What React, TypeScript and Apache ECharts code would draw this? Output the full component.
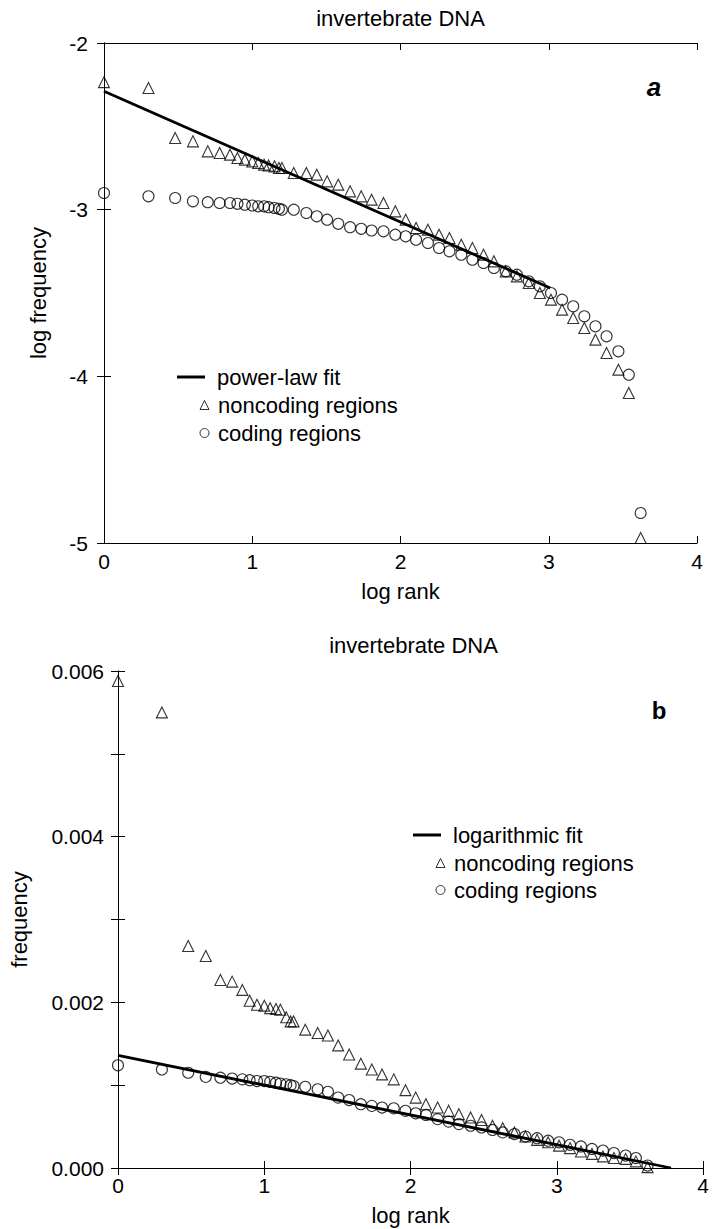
import React, { useEffect, useRef } from "react";
import * as echarts from "echarts";

// shared x positions (log rank) of the points
const logRank = [
  0, 0.3, 0.48, 0.6, 0.7, 0.78, 0.85, 0.9, 0.95, 1.0,
  1.04, 1.08, 1.11, 1.15, 1.18, 1.2,
  1.28, 1.365, 1.435, 1.505, 1.58, 1.66, 1.735, 1.805, 1.885, 1.965,
  2.035, 2.105, 2.185, 2.26, 2.33, 2.41, 2.485, 2.56, 2.63, 2.71,
  2.785, 2.865, 2.94, 3.015, 3.09, 3.165, 3.24, 3.315, 3.39, 3.47,
  3.54, 3.62,
];

// panel a: log frequency
const aNoncoding = [
  -2.235, -2.27, -2.57, -2.59, -2.65, -2.66, -2.67, -2.69, -2.7, -2.71,
  -2.72, -2.73, -2.735, -2.74, -2.75, -2.75,
  -2.78, -2.78, -2.79, -2.83, -2.85, -2.89, -2.92, -2.94, -2.96, -3.01,
  -3.06, -3.11, -3.12, -3.15, -3.17, -3.21, -3.23, -3.27, -3.31, -3.37,
  -3.4, -3.44, -3.5, -3.54, -3.6, -3.65, -3.71, -3.78, -3.86, -3.96,
  -4.1, -4.97,
];
const aCoding = [
  -2.9, -2.92, -2.93, -2.95, -2.955, -2.96, -2.96, -2.965, -2.97, -2.975,
  -2.98, -2.98, -2.985, -2.99, -2.995, -3.0,
  -3.0, -3.02, -3.04, -3.06, -3.085, -3.105, -3.115, -3.125, -3.13, -3.15,
  -3.16, -3.18, -3.2, -3.23, -3.25, -3.27, -3.3, -3.32, -3.35, -3.37,
  -3.39, -3.43, -3.46, -3.5, -3.54, -3.58, -3.64, -3.7, -3.76, -3.85,
  -3.99, -4.82,
];
const aFitX = [0, 3.01];
const aFitY = [-2.29, -3.47];

// panel b: frequency
const bNoncoding = [
  0.00588, 0.0055, 0.00268, 0.00256, 0.00227, 0.00225, 0.00215, 0.00202, 0.00197, 0.00196,
  0.00193, 0.00192, 0.00191, 0.00182, 0.00177, 0.00177,
  0.00167, 0.00163, 0.0016, 0.00148, 0.00137, 0.00126, 0.00119, 0.00113, 0.00107, 0.00094,
  0.00085, 0.00077, 0.00073, 0.00069, 0.00065, 0.00061, 0.00058, 0.00051, 0.00048, 0.00043,
  0.00038, 0.00034, 0.00031, 0.00027, 0.00024, 0.0002, 0.00017, 0.00014, 0.00012, 0.00011,
  0.00008, 0.00001,
];
const bCoding = [
  0.00124, 0.00119, 0.00115, 0.0011, 0.00109, 0.00108, 0.00107, 0.00106, 0.00105, 0.00105,
  0.00104, 0.00103, 0.00102, 0.00101, 0.001, 0.00099,
  0.00098, 0.00095, 0.00092, 0.00085, 0.00082, 0.00077, 0.00075, 0.00073, 0.00072, 0.00069,
  0.00066, 0.00064, 0.00059, 0.00056, 0.00053, 0.00051, 0.00049, 0.00046, 0.00043, 0.00041,
  0.00038, 0.00036, 0.00033, 0.00031, 0.00028, 0.00026, 0.00023, 0.00021, 0.00018, 0.00015,
  0.00012, 0.00003,
];
const bFitX = [0, 3.78];
const bFitY = [0.00136, 0];

const xTicks = [0, 1, 2, 3, 4];
const aYTicks = [-5, -4, -3, -2];
const bYTicks = [0, 0.001, 0.002, 0.003, 0.004, 0.005, 0.006];
const bYLabels = ["0.000", "", "0.002", "", "0.004", "", "0.006"];

const FONT = '"Liberation Sans", Arial, Helvetica, sans-serif';
const BLACK = "#000";
const HOLLOW = "rgba(0,0,0,0)";

export default function App() {
  const ref = useRef<HTMLDivElement>(null);

  useEffect(() => {
    document.body.style.margin = "0";
    const chart = echarts.init(ref.current as HTMLDivElement, null, { renderer: "svg" });

    const line = { show: true, lineStyle: { color: BLACK, width: 1 } };
    const tick = { show: true, inside: true, length: 7, lineStyle: { color: BLACK, width: 1 } };
    const label = { color: BLACK, fontSize: 21, fontFamily: FONT };
    const nameStyle = { color: BLACK, fontSize: 22, fontFamily: FONT };

    const xCommon = (grid: number) => ({
      type: "value" as const,
      gridIndex: grid,
      min: xTicks[0],
      max: xTicks[xTicks.length - 1],
      interval: 1,
      axisLine: line,
      axisTick: tick,
      splitLine: { show: false },
    });

    const pair = (xs: number[], ys: number[]) => xs.map((x, i) => [x, ys[i]]);

    const scatter = (name: string, sym: string, xi: number, yi: number, ys: number[]) => ({
      name,
      type: "scatter" as const,
      xAxisIndex: xi,
      yAxisIndex: yi,
      symbol: sym,
      symbolSize: 11,
      itemStyle: { color: HOLLOW, borderColor: BLACK, borderWidth: 1.1 },
      data: pair(logRank, ys),
      z: 3,
    });

    const fit = (name: string, xi: number, yi: number, xs: number[], ys: number[]) => ({
      name,
      type: "line" as const,
      xAxisIndex: xi,
      yAxisIndex: yi,
      showSymbol: false,
      symbol: "none",
      color: BLACK,
      lineStyle: { color: BLACK, width: 2.8 },
      data: pair(xs, ys),
      z: 2,
    });

    const legendText = (pad: number) => ({
      color: BLACK,
      fontSize: 22,
      fontFamily: FONT,
      padding: [0, 0, 0, pad],
    });
    const symItem = (name: string, icon: string) => ({
      name,
      icon,
      itemStyle: { color: HOLLOW, borderColor: BLACK, borderWidth: 1 },
    });

    const bYAxis = (position: "left" | "right") => ({
      type: "value",
      gridIndex: 1,
      min: bYTicks[0],
      max: bYTicks[bYTicks.length - 1],
      interval: bYTicks[1] - bYTicks[0],
      position,
      axisLine: line,
      axisTick: tick,
      splitLine: { show: false },
    });

    const option: any = {
      animation: false,
      backgroundColor: "#fff",
      grid: [
        { left: 104, top: 43, width: 593, height: 500 },
        { left: 116, top: 671, width: 595, height: 497 },
      ],
      xAxis: [
        {
          ...xCommon(0),
          position: "bottom",
          axisLabel: { ...label, margin: 8 },
          name: "log rank",
          nameLocation: "middle",
          nameGap: 37,
          nameTextStyle: nameStyle,
        },
        { ...xCommon(0), position: "top", axisLabel: { show: false } },
        {
          ...xCommon(1),
          position: "bottom",
          axisLabel: { ...label, margin: 7 },
          name: "log rank",
          nameLocation: "middle",
          nameGap: 36,
          nameTextStyle: nameStyle,
        },
        { ...xCommon(1), position: "top", axisLabel: { show: false } },
      ],
      yAxis: [
        {
          type: "value",
          gridIndex: 0,
          min: aYTicks[0],
          max: aYTicks[aYTicks.length - 1],
          interval: 1,
          position: "left",
          axisLine: line,
          axisTick: tick,
          splitLine: { show: false },
          axisLabel: { ...label, margin: 16 },
          name: "log frequency",
          nameLocation: "middle",
          nameGap: 55,
          nameTextStyle: nameStyle,
        },
        {
          type: "value",
          gridIndex: 0,
          min: aYTicks[0],
          max: aYTicks[aYTicks.length - 1],
          interval: 1,
          position: "right",
          axisLine: line,
          axisTick: tick,
          splitLine: { show: false },
          axisLabel: { show: false },
        },
        {
          ...bYAxis("left"),
          axisLabel: {
            ...label,
            margin: 14,
            formatter: (v: number) => {
              const i = Math.round(v / (bYTicks[1] - bYTicks[0]));
              return bYLabels[i] ?? "";
            },
          },
          name: "frequency",
          nameLocation: "middle",
          nameGap: 88,
          nameTextStyle: nameStyle,
        },
        { ...bYAxis("right"), axisLabel: { show: false } },
      ],
      legend: [
        {
          data: [{ name: "power-law fit", icon: "rect" }],
          left: 177,
          top: 366,
          padding: 0,
          itemWidth: 28,
          itemHeight: 3,
          itemStyle: { color: BLACK },
          textStyle: legendText(7),
          selectedMode: false,
        },
        {
          data: [symItem("noncoding regions", "triangle"), symItem("coding regions", "circle")],
          orient: "vertical",
          left: 199.5,
          top: 394,
          padding: 0,
          itemWidth: 9,
          itemHeight: 9,
          itemGap: 6,
          textStyle: legendText(4),
          selectedMode: false,
        },
        {
          data: [{ name: "logarithmic fit", icon: "rect" }],
          left: 413,
          top: 824,
          padding: 0,
          itemWidth: 28,
          itemHeight: 3,
          itemStyle: { color: BLACK },
          textStyle: legendText(7),
          selectedMode: false,
        },
        {
          data: [symItem("noncoding regions", "triangle"), symItem("coding regions", "circle")],
          orient: "vertical",
          left: 435.5,
          top: 852,
          padding: 0,
          itemWidth: 9,
          itemHeight: 9,
          itemGap: 5,
          textStyle: legendText(4),
          selectedMode: false,
        },
      ],
      graphic: [
        {
          type: "text",
          x: 400.5,
          y: 18,
          style: { text: "invertebrate DNA", font: `22px ${FONT}`, fill: BLACK, textAlign: "center", textVerticalAlign: "middle" },
        },
        {
          type: "text",
          x: 413.5,
          y: 645,
          style: { text: "invertebrate DNA", font: `22px ${FONT}`, fill: BLACK, textAlign: "center", textVerticalAlign: "middle" },
        },
        {
          type: "text",
          x: 654,
          y: 87,
          style: { text: "a", font: `italic bold 26px ${FONT}`, fill: BLACK, textAlign: "center", textVerticalAlign: "middle" },
        },
        {
          type: "text",
          x: 659,
          y: 710,
          style: { text: "b", font: `bold 24px ${FONT}`, fill: BLACK, textAlign: "center", textVerticalAlign: "middle" },
        },
      ],
      series: [
        fit("power-law fit", 0, 0, aFitX, aFitY),
        scatter("noncoding regions", "triangle", 0, 0, aNoncoding),
        scatter("coding regions", "circle", 0, 0, aCoding),
        fit("logarithmic fit", 2, 2, bFitX, bFitY),
        scatter("noncoding regions", "triangle", 2, 2, bNoncoding),
        scatter("coding regions", "circle", 2, 2, bCoding),
      ],
    };

    chart.setOption(option);
    return () => chart.dispose();
  }, []);

  return (
    <div
      ref={ref}
      style={{ position: "absolute", left: 0, top: 0, width: 712, height: 1229 }}
    />
  );
}
